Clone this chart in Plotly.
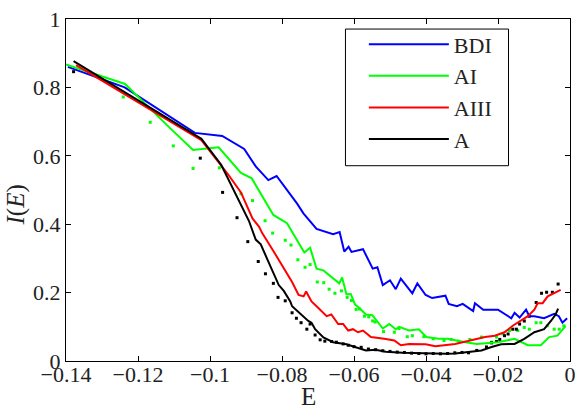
import plotly.graph_objects as go

# ---------------- data ----------------
bdi_E = [-0.1395, -0.1237, -0.1042, -0.0966, -0.0905, -0.0873, -0.0838, -0.0815, -0.0758, -0.0740,
         -0.0704, -0.0658, -0.0640, -0.0627, -0.0615, -0.0607, -0.0575, -0.0548, -0.0535, -0.0520,
         -0.0500, -0.0484, -0.0470, -0.0438, -0.0424, -0.0401, -0.0383, -0.0346, -0.0337, -0.0314,
         -0.0298, -0.0269, -0.0264, -0.0241, -0.0200, -0.0163, -0.0154, -0.0140, -0.0122, -0.0113,
         -0.0099, -0.0072, -0.0044, -0.0031, -0.0021, -0.0008]
bdi_I = [0.860, 0.800, 0.667, 0.658, 0.620, 0.569, 0.529, 0.541, 0.460, 0.431,
         0.386, 0.371, 0.377, 0.320, 0.334, 0.319, 0.327, 0.270, 0.274, 0.222,
         0.236, 0.210, 0.241, 0.198, 0.227, 0.193, 0.184, 0.191, 0.167, 0.160,
         0.167, 0.146, 0.169, 0.150, 0.150, 0.125, 0.141, 0.127, 0.150, 0.131,
         0.131, 0.125, 0.138, 0.131, 0.112, 0.125]

ai_E = [-0.1400, -0.1236, -0.1111, -0.1047, -0.0976, -0.0914, -0.0884, -0.0841, -0.0824, -0.0786,
        -0.0738, -0.0722, -0.0704, -0.0685, -0.0641, -0.0633, -0.0621, -0.0609, -0.0597, -0.0585,
        -0.0567, -0.0549, -0.0520, -0.0502, -0.0484, -0.0475, -0.0447, -0.0420, -0.0399, -0.0365,
        -0.0340, -0.0291, -0.0259, -0.0200, -0.0154, -0.0117, -0.0081, -0.0058, -0.0035, -0.0012]
ai_I = [0.867, 0.810, 0.681, 0.617, 0.625, 0.550, 0.534, 0.460, 0.427, 0.403,
        0.317, 0.331, 0.270, 0.265, 0.227, 0.244, 0.195, 0.196, 0.165, 0.155,
        0.136, 0.134, 0.095, 0.108, 0.093, 0.100, 0.089, 0.093, 0.070, 0.065,
        0.065, 0.055, 0.050, 0.055, 0.065, 0.046, 0.046, 0.070, 0.074, 0.103]

aiii_E = [-0.1372, -0.1024, -0.0964, -0.0950, -0.0914, -0.0882, -0.0864, -0.0855, -0.0827, -0.0805,
          -0.0791, -0.0772, -0.0754, -0.0740, -0.0733, -0.0718, -0.0699, -0.0676, -0.0663, -0.0644,
          -0.0630, -0.0616, -0.0603, -0.0589, -0.0575, -0.0553, -0.0516, -0.0488, -0.0470, -0.0447,
          -0.0401, -0.0374, -0.0319, -0.0278, -0.0236, -0.0209, -0.0182, -0.0159, -0.0136, -0.0117,
          -0.0099, -0.0090, -0.0076, -0.0062, -0.0026]
aiii_I = [0.865, 0.646, 0.565, 0.546, 0.493, 0.417, 0.393, 0.374, 0.327, 0.289,
          0.265, 0.231, 0.193, 0.189, 0.203, 0.174, 0.155, 0.131, 0.136, 0.108,
          0.108, 0.089, 0.093, 0.084, 0.089, 0.070, 0.065, 0.060, 0.046, 0.050,
          0.049, 0.043, 0.050, 0.060, 0.070, 0.074, 0.084, 0.103, 0.117, 0.131,
          0.150, 0.169, 0.169, 0.189, 0.208]

a_E = [-0.1379, -0.1024, -0.0969, -0.0951, -0.0923, -0.0892, -0.0873, -0.0859, -0.0841, -0.0827,
       -0.0809, -0.0795, -0.0777, -0.0772, -0.0758, -0.0740, -0.0727, -0.0718, -0.0708, -0.0685,
       -0.0658, -0.0621, -0.0594, -0.0567, -0.0540, -0.0512, -0.0465, -0.0401, -0.0346, -0.0319,
       -0.0273, -0.0246, -0.0218, -0.0191, -0.0154, -0.0127, -0.0099, -0.0072, -0.0053, -0.0040,
       -0.0033]
a_I = [0.877, 0.650, 0.574, 0.536, 0.479, 0.410, 0.355, 0.341, 0.298, 0.265,
       0.222, 0.205, 0.174, 0.160, 0.146, 0.131, 0.117, 0.112, 0.093, 0.069,
       0.055, 0.049, 0.039, 0.031, 0.033, 0.027, 0.024, 0.022, 0.021, 0.022,
       0.027, 0.031, 0.041, 0.049, 0.050, 0.065, 0.084, 0.093, 0.117, 0.136,
       0.153]

ai_dot_E = [-0.1241, -0.1166, -0.1102, -0.1047, -0.0974, -0.0914, -0.0882, -0.0847, -0.0826, -0.0791,
            -0.0775, -0.0756, -0.0736, -0.0722, -0.0702, -0.0684, -0.0669, -0.0653, -0.0635, -0.0619,
            -0.0607, -0.0594, -0.0585, -0.0571, -0.0559, -0.0548, -0.0541, -0.0518, -0.0488, -0.0475,
            -0.0452, -0.0438, -0.0406, -0.0380, -0.0350, -0.0330, -0.0310, -0.0278, -0.0246, -0.0218,
            -0.0204, -0.0186, -0.0168, -0.0145, -0.0127, -0.0113, -0.0094, -0.0081, -0.0063, -0.0044,
            -0.0030, -0.0017]
ai_dot_I = [0.772, 0.698, 0.629, 0.563, 0.565, 0.489, 0.469, 0.410, 0.374, 0.353,
            0.339, 0.296, 0.274, 0.282, 0.231, 0.229, 0.210, 0.198, 0.205, 0.186,
            0.177, 0.151, 0.152, 0.131, 0.129, 0.117, 0.114, 0.086, 0.084, 0.095,
            0.071, 0.074, 0.071, 0.065, 0.060, 0.063, 0.058, 0.063, 0.070, 0.055,
            0.070, 0.079, 0.089, 0.089, 0.098, 0.093, 0.112, 0.112, 0.103, 0.093,
            0.093, 0.103]

a_dot_E = [-0.1379, -0.1027, -0.0965, -0.0925, -0.0895, -0.0866, -0.0846, -0.0824, -0.0811, -0.0791,
           -0.0772, -0.0760, -0.0747, -0.0731, -0.0722, -0.0708, -0.0694, -0.0681, -0.0662, -0.0649,
           -0.0630, -0.0616, -0.0600, -0.0580, -0.0560, -0.0540, -0.0520, -0.0500, -0.0480, -0.0460,
           -0.0440, -0.0420, -0.0400, -0.0380, -0.0360, -0.0340, -0.0320, -0.0300, -0.0282, -0.0259,
           -0.0232, -0.0218, -0.0204, -0.0195, -0.0182, -0.0172, -0.0159, -0.0149, -0.0140, -0.0127,
           -0.0113, -0.0094, -0.0079, -0.0065, -0.0049, -0.0033]
a_dot_I = [0.846, 0.593, 0.493, 0.419, 0.349, 0.291, 0.255, 0.227, 0.186, 0.176,
           0.141, 0.125, 0.112, 0.093, 0.108, 0.076, 0.062, 0.058, 0.057, 0.055,
           0.050, 0.046, 0.042, 0.040, 0.035, 0.033, 0.030, 0.028, 0.026, 0.025,
           0.023, 0.022, 0.021, 0.022, 0.021, 0.022, 0.024, 0.025, 0.024, 0.031,
           0.041, 0.053, 0.057, 0.063, 0.074, 0.079, 0.093, 0.093, 0.108, 0.117,
           0.131, 0.171, 0.198, 0.201, 0.201, 0.225]

x_ticks = [-0.14, -0.12, -0.10, -0.08, -0.06, -0.04, -0.02, 0.0]
x_tick_text = ["\u22120.14", "\u22120.12", "\u22120.1", "\u22120.08", "\u22120.06", "\u22120.04", "\u22120.02", "0"]
y_ticks = [0, 0.2, 0.4, 0.6, 0.8, 1.0]
y_tick_text = ["0", "0.2", "0.4", "0.6", "0.8", "1"]

FONT = "Liberation Serif"

fig = go.Figure()
fig.add_trace(go.Scatter(x=ai_dot_E, y=ai_dot_I, mode="markers", showlegend=False,
                         marker=dict(color="#00ff00", size=3, symbol="square")))
fig.add_trace(go.Scatter(x=a_dot_E, y=a_dot_I, mode="markers", showlegend=False,
                         marker=dict(color="black", size=3, symbol="square")))
fig.add_trace(go.Scatter(x=bdi_E, y=bdi_I, mode="lines", name="BDI", line=dict(color="#0000ff", width=2)))
fig.add_trace(go.Scatter(x=ai_E, y=ai_I, mode="lines", name="AI", line=dict(color="#00ff00", width=2)))
fig.add_trace(go.Scatter(x=aiii_E, y=aiii_I, mode="lines", name="AIII", line=dict(color="#ff0000", width=2)))
fig.add_trace(go.Scatter(x=a_E, y=a_I, mode="lines", name="A", line=dict(color="black", width=2)))

fig.update_layout(
    width=583, height=412,
    margin=dict(l=66, r=7, t=11, b=51),
    paper_bgcolor="white", plot_bgcolor="white",
    font=dict(family=FONT, size=22, color="#222"),
    legend=dict(x=0.591, y=0.987, xanchor="left", yanchor="top",
                bgcolor="rgba(0,0,0,0)", borderwidth=0,
                font=dict(family=FONT, size=22, color="#222"),
                itemwidth=80, traceorder="normal"),
    shapes=[dict(type="rect", xref="paper", yref="paper", x0=0.5545, x1=0.878, y0=0.571, y1=0.9706,
                 line=dict(color="black", width=1), fillcolor="white", layer="below")],
    annotations=[
        dict(text="E", xref="paper", yref="paper", x=0.481, y=-0.105, xanchor="center", yanchor="middle",
             showarrow=False, font=dict(family=FONT, size=25, color="#222")),
        dict(text="<i>I</i>(<i>E</i>)", xref="paper", yref="paper", x=-0.099, y=0.455,
             xanchor="center", yanchor="middle", textangle=-90,
             showarrow=False, font=dict(family=FONT, size=25, color="#222")),
    ],
)
fig.update_xaxes(range=[-0.14, 0], tickvals=x_ticks, ticktext=x_tick_text,
                 ticks="inside", ticklen=5, tickcolor="black", showgrid=False, zeroline=False,
                 showline=True, linecolor="black", linewidth=1, mirror="ticks",
                 ticklabelstandoff=-6, ticklabeloverflow="allow")
fig.update_yaxes(range=[0, 1], tickvals=y_ticks, ticktext=y_tick_text,
                 ticks="inside", ticklen=5, tickcolor="black", showgrid=False, zeroline=False,
                 showline=True, linecolor="black", linewidth=1, mirror="ticks",
                 ticklabeloverflow="allow")

fig.write_html("out.html", config={"displayModeBar": False},
               post_script="document.body.style.margin='0';document.body.style.padding='0';")
